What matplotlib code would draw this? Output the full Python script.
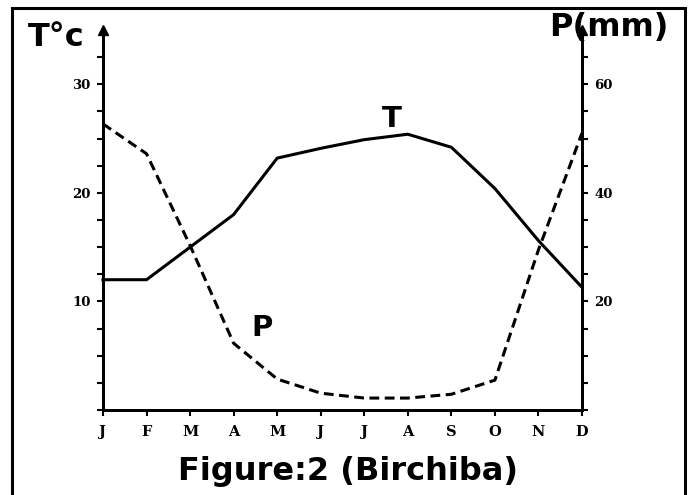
import matplotlib.pyplot as plt
from matplotlib.patches import Rectangle

# monthly climate data (Birchiba)
months = ['J', 'F', 'M', 'A', 'M', 'J', 'J', 'A', 'S', 'O', 'N', 'D']
temp = [12.0, 12.0, 15.0, 18.0, 23.2, 24.1, 24.9, 25.4, 24.2, 20.4, 15.6, 11.3]
rain = [52.7, 47.2, 30.3, 12.3, 5.7, 3.1, 2.2, 2.2, 2.9, 5.5, 29.5, 51.0]
temp_ticks = [10, 20, 30]
rain_ticks = [20, 40, 60]

serif = 'DejaVu Serif'
sans = 'DejaVu Sans'

fig = plt.figure(figsize=(6.91, 4.95), dpi=100)
ax = fig.add_axes([103 / 691, 1 - 410 / 495, 479 / 691, 380 / 495])
ax2 = ax.twinx()

x = list(range(len(months)))
ax.plot(x, temp, color='black', lw=2.2, solid_joinstyle='round', clip_on=False)
ax2.plot(x, rain, color='black', lw=2.2, ls=(0, (3.2, 1.8)), clip_on=False)

ax.set_xlim(0, 11)
ax.set_ylim(0, 35)
ax2.set_ylim(0, 70)

ax.set_xticks(x)
ax.set_xticklabels(months, fontfamily=serif, fontweight='bold', fontsize=10.5)
ax.set_yticks([v * 2.5 for v in range(14)])
ax.set_yticklabels([str(int(v * 2.5)) if v * 2.5 in temp_ticks else '' for v in range(14)],
                   fontfamily=serif, fontweight='bold', fontsize=9.5)
ax2.set_yticks([v * 5 for v in range(14)])
ax2.set_yticklabels([str(v * 5) if v * 5 in rain_ticks else '' for v in range(14)],
                    fontfamily=serif, fontweight='bold', fontsize=9.5)

for a in (ax, ax2):
    a.spines['top'].set_visible(False)
    for s in a.spines.values():
        s.set_linewidth(2)
    a.tick_params(width=1.5, length=4, direction='out', pad=5)
ax.tick_params(axis='x', pad=7)

# arrows at top of both axes
ax.plot([0], [1.0], marker='^', color='black', markersize=7, transform=ax.transAxes, clip_on=False)
ax.plot([1], [1.0], marker='^', color='black', markersize=7, transform=ax.transAxes, clip_on=False)

ax.text(6.64, 26.1, 'T', fontfamily=sans, fontweight='bold', fontsize=21, ha='center')
ax2.text(3.66, 13.6, 'P', fontfamily=sans, fontweight='bold', fontsize=21, ha='center')

fig.text(28 / 691, 1 - 46 / 495, 'T°c', fontfamily=sans, fontweight='bold', fontsize=23, ha='left', va='baseline')
fig.text(668 / 691, 1 - 36 / 495, 'P(mm)', fontfamily=sans, fontweight='bold', fontsize=23, ha='right', va='baseline')
fig.text(348 / 691, 1 - 480 / 495, 'Figure:2 (Birchiba)', fontfamily=sans, fontweight='bold', fontsize=23,
         ha='center', va='baseline')

fig.patches.append(Rectangle((12 / 691, -0.02), 673 / 691, 1 - 8 / 495 + 0.02, transform=fig.transFigure,
                             fill=False, edgecolor='black', lw=2.2))

fig.savefig('out.png', dpi=100)
